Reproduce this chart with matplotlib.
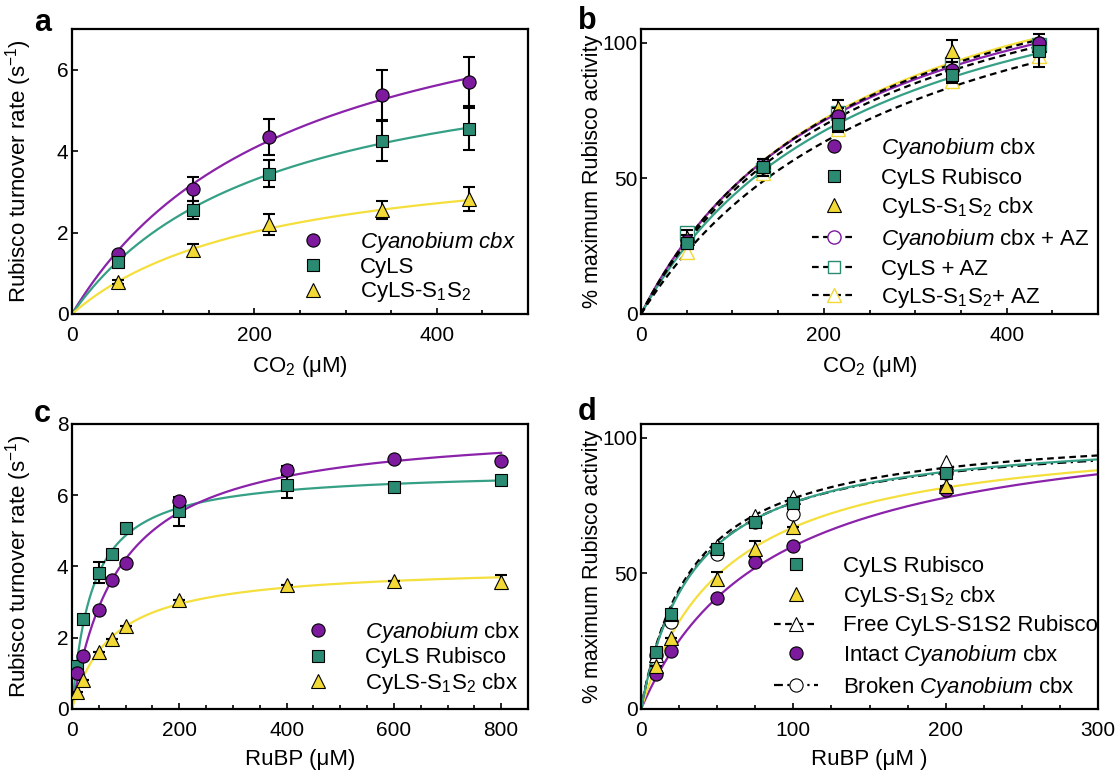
import numpy as np
import matplotlib.pyplot as plt
from matplotlib.lines import Line2D
from matplotlib.ticker import MultipleLocator

plt.rcParams['font.family'] = ['Liberation Sans', 'DejaVu Sans']
plt.rcParams['mathtext.fontset'] = 'custom'
plt.rcParams['mathtext.rm'] = 'Liberation Sans'
plt.rcParams['mathtext.it'] = 'Liberation Sans:italic'
plt.rcParams['mathtext.bf'] = 'Liberation Sans:bold'

# couleurs
PURPLE, PURPLE_L = '#7d1a9e', '#8a22aa'
TEAL, TEAL_L = '#2b8a72', '#35a086'
YELLOW, YELLOW_L = '#f2d935', '#f4df3c'

# --- panneau a : CO2, taux de renouvellement ---
co2 = [50, 133, 216, 340, 435]
a_cyano = [1.48, 3.07, 4.35, 5.38, 5.70]
a_cyano_err = [0.05, 0.30, 0.45, 0.62, 0.60]
a_cyls = [1.28, 2.55, 3.45, 4.25, 4.55]
a_cyls_err = [0.05, 0.22, 0.32, 0.50, 0.52]
a_s1s2 = [0.78, 1.58, 2.20, 2.55, 2.82]
a_s1s2_err = [0.05, 0.15, 0.25, 0.22, 0.30]
# ajustements Michaelis-Menten (Vmax, Km)
a_fit = {'cyano': (9.0, 241), 'cyls': (6.84, 215), 's1s2': (4.16, 212)}

# --- panneau b : CO2, % activité maximale ---
b_cyano = [27, 54, 73, 90, 100]
b_cyano_err = [2, 2, 3, 3, 1]
b_cyls = [26, 54, 70, 88, 97]
b_cyls_err = [2, 3, 3, 3, 6]
b_s1s2 = [28, 55, 76, 97, 99]
b_s1s2_err = [3, 2, 3, 4, 1]
b_cyano_az = [28, 55, 74, 91, 100]
b_cyls_az = [30, 53, 74, 92, 99]
b_s1s2_az = [23, 52, 68, 86, 95]
b_fit = {'cyano': (152, 227), 'cyls': (150.6, 247), 's1s2': (158, 240),
         'cyano_az': (155.6, 235), 'cyls_az': (153, 240), 's1s2_az': (154.8, 289)}

# --- panneau c : RuBP, taux de renouvellement ---
rubp_c = [10, 20, 50, 75, 100, 200, 400, 600, 800]
c_cyano = [1.0, 1.5, 2.78, 3.63, 4.10, 5.83, 6.70, 7.02, 6.97]
c_cyano_err = [0, 0, 0, 0, 0, 0.05, 0.12, 0, 0]
c_cyls = [1.2, 2.53, 3.83, 4.35, 5.07, 5.55, 6.28, 6.22, 6.43]
c_cyls_err = [0, 0, 0.3, 0, 0, 0.4, 0.35, 0, 0]
c_s1s2 = [0.47, 0.8, 1.6, 1.97, 2.33, 3.05, 3.48, 3.58, 3.57]
c_s1s2_err = [0, 0, 0, 0, 0, 0, 0, 0, 0.2]
c_fit = {'cyano': (8.0, 90), 'cyls': (6.72, 38), 's1s2': (4.04, 74)}

# --- panneau d : RuBP, % activité maximale ---
rubp_d = [10, 20, 50, 75, 100, 200]
d_cyls = [21, 35, 59, 69, 76, 87]
d_s1s2 = [16, 26, 48, 59, 67, 82]
d_s1s2_err = [0, 0, 2.5, 3, 0, 0]
d_free = [20, 35, 60, 71, 78, 91]
d_intact = [13, 21.5, 41, 54, 60, 80.5]
d_broken = [20, 32, 57, 69, 72, 87]
d_fit = {'cyls': (102.7, 35), 's1s2': (104.4, 56), 'free': (104, 34),
         'intact': (111, 85), 'broken': (101.9, 34)}

MS_O, MS_S, MS_T = 9.5, 9, 10


def mm(x, p):
    vmax, km = p
    return vmax * x / (km + x)


def style(ax, xmaj, xmin, xlim, ymaj, ylim):
    ax.set_xlim(*xlim)
    ax.set_ylim(*ylim)
    ax.xaxis.set_major_locator(MultipleLocator(xmaj))
    ax.xaxis.set_minor_locator(MultipleLocator(xmin))
    ax.yaxis.set_major_locator(MultipleLocator(ymaj))
    ax.tick_params(which='both', direction='in', width=1.2, labelsize=15)
    ax.tick_params(which='major', length=4)
    ax.tick_params(which='minor', length=3)
    ax.tick_params(axis='x', pad=9)
    ax.tick_params(axis='y', pad=2.5)
    for s in ax.spines.values():
        s.set_linewidth(1.6)
    ax.yaxis.set_label_coords(-0.083, 0.5)


mk = dict(markeredgecolor='black', markeredgewidth=0.8, linestyle='none')
eb = dict(ecolor='black', elinewidth=1.5, capsize=4, capthick=1.5, linestyle='none')

fig = plt.figure(figsize=(11.16, 7.73), dpi=100)
ax_a = fig.add_axes([0.0645, 0.5938, 0.4086, 0.3687])
ax_b = fig.add_axes([0.5744, 0.5938, 0.4095, 0.3687])
ax_c = fig.add_axes([0.0645, 0.0828, 0.4086, 0.3687])
ax_d = fig.add_axes([0.5744, 0.0828, 0.4095, 0.3687])

# ---------- a ----------
ax = ax_a
xf = np.linspace(0, 435, 300)
ax.plot(xf, mm(xf, a_fit['cyano']), color=PURPLE_L, lw=1.6)
ax.plot(xf, mm(xf, a_fit['cyls']), color=TEAL_L, lw=1.6)
ax.plot(xf, mm(xf, a_fit['s1s2']), color=YELLOW_L, lw=1.6)
for y, e, c, m, ms in [(a_cyano, a_cyano_err, PURPLE, 'o', MS_O),
                       (a_cyls, a_cyls_err, TEAL, 's', MS_S),
                       (a_s1s2, a_s1s2_err, YELLOW, '^', MS_T)]:
    ax.errorbar(co2, y, yerr=e, **eb, zorder=3)
    ax.plot(co2, y, marker=m, ms=ms, markerfacecolor=c, **mk, zorder=4)
style(ax, 200, 50, (0, 500), 2, (0, 7))
ax.set_xlabel('CO$_2$ (μM)', fontsize=16, labelpad=6)
ax.set_ylabel('Rubisco turnover rate (s$^{-1}$)', fontsize=16)
h = [Line2D([], [], marker='o', ms=MS_O, markerfacecolor=PURPLE, **mk),
     Line2D([], [], marker='s', ms=MS_S, markerfacecolor=TEAL, **mk),
     Line2D([], [], marker='^', ms=MS_T, markerfacecolor=YELLOW, **mk)]
ax.legend(h, [r'$\mathit{Cyanobium\ cbx}$', 'CyLS', 'CyLS-S$_1$S$_2$'],
          loc='upper left', bbox_to_anchor=(0.48, 0.295), frameon=False,
          fontsize=16, borderpad=0, borderaxespad=0, handlelength=2,
          handletextpad=1.1, labelspacing=0.1)

# ---------- b ----------
ax = ax_b
xf = np.linspace(0, 435, 300)
ax.plot(xf, mm(xf, b_fit['s1s2']), color=YELLOW_L, lw=1.6, zorder=2)
ax.plot(xf, mm(xf, b_fit['cyano']), color=PURPLE_L, lw=1.6, zorder=2)
ax.plot(xf, mm(xf, b_fit['cyls']), color=TEAL_L, lw=1.6, zorder=2)
dash = (0, (3, 2))
for k in ['cyano_az', 'cyls_az', 's1s2_az']:
    ax.plot(xf, mm(xf, b_fit[k]), color='black', lw=1.6, ls=dash, zorder=2)
for y, c, m in [(b_cyano_az, PURPLE, 'o'), (b_cyls_az, TEAL, 's'), (b_s1s2_az, YELLOW, '^')]:
    ax.plot(co2, y, marker=m, ms=MS_O, markerfacecolor='white', markeredgecolor=c,
            markeredgewidth=1.0, linestyle='none', zorder=3)
for y, e, c, m, ms in [(b_s1s2, b_s1s2_err, YELLOW, '^', MS_T),
                       (b_cyano, b_cyano_err, PURPLE, 'o', MS_O),
                       (b_cyls, b_cyls_err, TEAL, 's', MS_S)]:
    ax.errorbar(co2, y, yerr=e, **eb, zorder=3)
    ax.plot(co2, y, marker=m, ms=ms, markerfacecolor=c, **mk, zorder=4)
style(ax, 200, 50, (0, 500), 50, (0, 105))
ax.set_xlabel('CO$_2$ (μM)', fontsize=16, labelpad=6)
ax.set_ylabel('% maximum Rubisco activity', fontsize=15.5)
h = [Line2D([], [], marker='o', ms=MS_O, markerfacecolor=PURPLE, **mk),
     Line2D([], [], marker='s', ms=MS_S, markerfacecolor=TEAL, **mk),
     Line2D([], [], marker='^', ms=MS_T, markerfacecolor=YELLOW, **mk),
     Line2D([], [], color='black', ls=dash, lw=1.6, marker='o', ms=MS_O,
            markerfacecolor='white', markeredgecolor=PURPLE),
     Line2D([], [], color='black', ls=dash, lw=1.6, marker='s', ms=MS_S,
            markerfacecolor='white', markeredgecolor=TEAL),
     Line2D([], [], color='black', ls=dash, lw=1.6, marker='^', ms=MS_T,
            markerfacecolor='white', markeredgecolor=YELLOW)]
ax.legend(h, [r'$\mathit{Cyanobium}$ cbx', 'CyLS Rubisco', 'CyLS-S$_1$S$_2$ cbx',
              r'$\mathit{Cyanobium}$ cbx + AZ', 'CyLS + AZ', 'CyLS-S$_1$S$_2$+ AZ'],
          loc='upper left', bbox_to_anchor=(0.374, 0.625), frameon=False,
          fontsize=16, borderpad=0, borderaxespad=0, handlelength=2,
          handletextpad=1.1, labelspacing=0.3)

# ---------- c ----------
ax = ax_c
xf = np.linspace(0, 800, 400)
ax.plot(xf, mm(xf, c_fit['cyls']), color=TEAL_L, lw=1.6)
ax.plot(xf, mm(xf, c_fit['cyano']), color=PURPLE_L, lw=1.6)
ax.plot(xf, mm(xf, c_fit['s1s2']), color=YELLOW_L, lw=1.6)
for y, e, c, m, ms in [(c_cyls, c_cyls_err, TEAL, 's', MS_S),
                       (c_cyano, c_cyano_err, PURPLE, 'o', MS_O),
                       (c_s1s2, c_s1s2_err, YELLOW, '^', MS_T)]:
    ax.errorbar(rubp_c, y, yerr=e, **eb, zorder=3)
    ax.plot(rubp_c, y, marker=m, ms=ms, markerfacecolor=c, **mk, zorder=4)
style(ax, 200, 50, (0, 850), 2, (0, 8))
ax.set_xlabel('RuBP (μM)', fontsize=16, labelpad=6)
ax.set_ylabel('Rubisco turnover rate (s$^{-1}$)', fontsize=16)
h = [Line2D([], [], marker='o', ms=MS_O, markerfacecolor=PURPLE, **mk),
     Line2D([], [], marker='s', ms=MS_S, markerfacecolor=TEAL, **mk),
     Line2D([], [], marker='^', ms=MS_T, markerfacecolor=YELLOW, **mk)]
ax.legend(h, [r'$\mathit{Cyanobium}$ cbx', 'CyLS Rubisco', 'CyLS-S$_1$S$_2$ cbx'],
          loc='upper left', bbox_to_anchor=(0.491, 0.312), frameon=False,
          fontsize=16, borderpad=0, borderaxespad=0, handlelength=2,
          handletextpad=1.1, labelspacing=0.1)

# ---------- d ----------
ax = ax_d
xf = np.linspace(0, 300, 300)
dashdot = (0, (4, 2, 1, 2))
ax.plot(xf, mm(xf, d_fit['intact']), color=PURPLE_L, lw=1.6, zorder=2)
ax.plot(xf, mm(xf, d_fit['s1s2']), color=YELLOW_L, lw=1.6, zorder=2)
ax.plot(xf, mm(xf, d_fit['free']), color='black', lw=1.6, ls=dash, zorder=2)
ax.plot(xf, mm(xf, d_fit['broken']), color='black', lw=1.6, ls=dashdot, zorder=2)
ax.plot(xf, mm(xf, d_fit['cyls']), color=TEAL_L, lw=1.6, zorder=2)
ax.plot(rubp_d, d_broken, marker='o', ms=MS_O, markerfacecolor='white', **mk, zorder=3)
ax.plot(rubp_d, d_free, marker='^', ms=MS_T, markerfacecolor='white', **mk, zorder=3)
ax.errorbar(rubp_d, d_s1s2, yerr=d_s1s2_err, **eb, zorder=3)
ax.plot(rubp_d, d_intact, marker='o', ms=MS_O, markerfacecolor=PURPLE, **mk, zorder=4)
ax.plot(rubp_d, d_s1s2, marker='^', ms=MS_T, markerfacecolor=YELLOW, **mk, zorder=4)
ax.plot(rubp_d, d_cyls, marker='s', ms=MS_S, markerfacecolor=TEAL, **mk, zorder=4)
style(ax, 100, 25, (0, 300), 50, (0, 105))
ax.set_xlabel('RuBP (μM )', fontsize=16, labelpad=6)
ax.set_ylabel('% maximum Rubisco activity', fontsize=15.5)
h = [Line2D([], [], marker='s', ms=MS_S, markerfacecolor=TEAL, **mk),
     Line2D([], [], marker='^', ms=MS_T, markerfacecolor=YELLOW, **mk),
     Line2D([], [], color='black', ls=dash, lw=1.6, marker='^', ms=MS_T,
            markerfacecolor='white', markeredgecolor='black', markeredgewidth=0.8),
     Line2D([], [], marker='o', ms=MS_O, markerfacecolor=PURPLE, **mk),
     Line2D([], [], color='black', ls=dashdot, lw=1.6, marker='o', ms=MS_O,
            markerfacecolor='white', markeredgecolor='black', markeredgewidth=0.8)]
ax.legend(h, ['CyLS Rubisco', 'CyLS-S$_1$S$_2$ cbx', 'Free CyLS-S1S2 Rubisco',
              r'Intact $\mathit{Cyanobium}$ cbx', r'Broken $\mathit{Cyanobium}$ cbx'],
          loc='upper left', bbox_to_anchor=(0.291, 0.537), frameon=False,
          fontsize=16, borderpad=0, borderaxespad=0, handlelength=2,
          handletextpad=1.1, labelspacing=0.3)

# lettres des panneaux
for x, y, t in [(34, 31, 'a'), (578, 29, 'b'), (34, 422, 'c'), (578, 420, 'd')]:
    fig.text(x / 1116, 1 - y / 773, t, fontsize=22, fontweight='bold', va='baseline')

fig.savefig('out.png', dpi=100)
